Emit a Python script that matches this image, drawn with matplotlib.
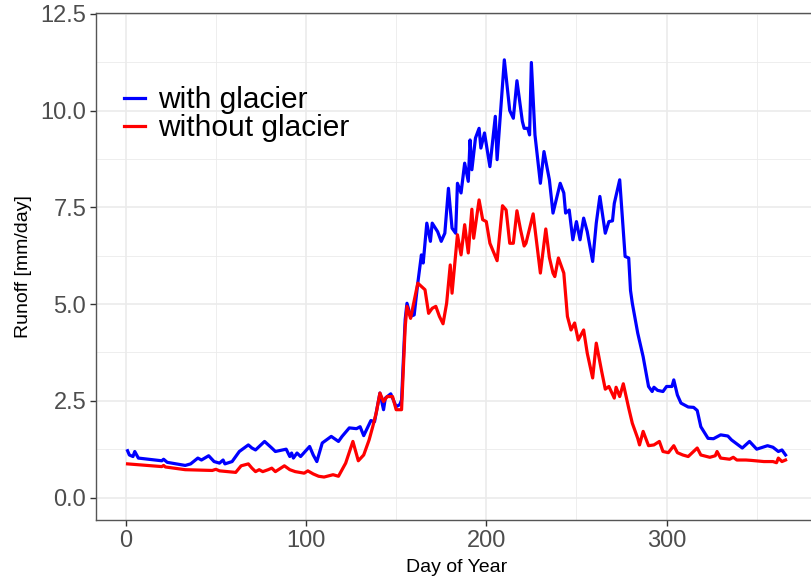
import matplotlib
matplotlib.use("Agg")
import matplotlib.pyplot as plt
from matplotlib.ticker import MultipleLocator

# mean daily runoff, with and without glacier melt
days_with = [1, 2, 4, 5, 7, 20, 21, 23, 33, 36, 40, 42, 46, 49, 52, 54, 55, 59, 63, 68,
             70, 72, 77, 81, 83, 89, 91, 92, 93, 95, 97, 102, 104, 106, 109, 114, 118, 120,
             124, 128, 130, 132, 136, 138, 140, 141, 143, 144, 147, 150, 152, 153, 155, 156,
             158, 160, 162, 164, 165, 167, 169, 170, 173, 175, 177, 179, 181, 183, 184, 186,
             188, 190, 191, 192, 194, 196, 197, 199, 202, 205, 206, 210, 213, 215, 217, 220,
             221, 223, 224, 225, 227, 230, 232, 235, 237, 241, 243, 244, 246, 248, 250, 252,
             254, 256, 259, 261, 263, 266, 268, 270, 271, 274, 277, 279, 280, 281, 284, 287,
             290, 292, 293, 295, 298, 300, 303, 304, 306, 308, 312, 315, 317, 319, 323, 326,
             330, 334, 336, 342, 346, 350, 356, 359, 362, 364, 366]
runoff_with = [1.21, 1.10, 1.06, 1.19, 1.02, 0.95, 0.99, 0.91, 0.83, 0.87, 1.02, 0.97, 1.08,
               0.93, 0.89, 0.97, 0.87, 0.93, 1.19, 1.36, 1.28, 1.23, 1.45, 1.28, 1.19, 1.25,
               1.06, 1.15, 1.02, 1.15, 1.06, 1.32, 1.10, 0.93, 1.41, 1.58, 1.45, 1.58, 1.80,
               1.78, 1.83, 1.60, 1.99, 1.96, 2.45, 2.70, 2.27, 2.57, 2.68, 2.35, 2.40, 2.52,
               4.60, 5.02, 4.68, 4.72, 5.54, 6.27, 6.06, 7.09, 6.62, 7.09, 6.87, 6.62, 6.83,
               7.99, 6.96, 6.83, 8.12, 7.87, 8.64, 8.17, 9.24, 8.47, 9.29, 9.54, 9.03, 9.42,
               8.55, 9.85, 8.73, 11.31, 10.00, 9.80, 10.77, 9.72, 9.54, 9.54, 9.37, 11.24,
               9.37, 8.12, 8.94, 8.21, 7.35, 8.12, 7.87, 7.35, 7.43, 6.66, 7.13, 6.66, 7.22,
               6.87, 6.10, 7.09, 7.78, 6.83, 7.13, 7.15, 7.60, 8.21, 6.23, 6.19, 5.35, 5.02,
               4.25, 3.64, 2.87, 2.74, 2.85, 2.77, 2.74, 2.87, 2.87, 3.04, 2.65, 2.44, 2.34,
               2.33, 2.25, 1.83, 1.53, 1.52, 1.62, 1.59, 1.49, 1.28, 1.45, 1.25, 1.34, 1.30,
               1.19, 1.23, 1.10]

days_without = [1, 20, 21, 22, 33, 48, 50, 52, 61, 64, 68, 70, 72, 74, 76, 79, 81, 83, 88,
                91, 94, 99, 101, 104, 107, 110, 115, 118, 122, 126, 129, 132, 135, 137, 139,
                141, 143, 145, 148, 150, 153, 155, 156, 158, 162, 166, 168, 170, 172, 174,
                176, 178, 180, 181, 184, 186, 188, 190, 192, 193, 196, 198, 200, 202, 206,
                209, 211, 213, 215, 217, 219, 221, 222, 226, 230, 233, 235, 237, 238, 240,
                243, 245, 247, 249, 251, 254, 256, 259, 261, 264, 266, 268, 271, 272, 274,
                276, 279, 281, 284, 285, 287, 290, 293, 296, 298, 301, 304, 306, 309, 312,
                317, 319, 324, 327, 328, 330, 335, 337, 339, 344, 347, 354, 359, 361, 362,
                364, 366]
runoff_without = [0.87, 0.80, 0.83, 0.79, 0.72, 0.70, 0.73, 0.69, 0.65, 0.82, 0.87, 0.76,
                  0.67, 0.72, 0.67, 0.72, 0.76, 0.67, 0.82, 0.72, 0.67, 0.63, 0.69, 0.61,
                  0.55, 0.53, 0.59, 0.55, 0.89, 1.45, 0.95, 1.10, 1.49, 1.83, 2.20, 2.70,
                  2.48, 2.61, 2.61, 2.27, 2.27, 4.40, 4.94, 4.63, 5.54, 5.37, 4.76, 4.89,
                  4.94, 4.68, 4.49, 5.02, 6.01, 5.28, 6.79, 6.27, 7.05, 6.32, 7.45, 6.70,
                  7.69, 7.18, 7.13, 6.57, 6.12, 7.54, 7.43, 6.57, 6.57, 7.41, 6.92, 6.50,
                  6.57, 7.33, 5.80, 6.94, 6.20, 5.80, 5.71, 6.19, 5.80, 4.68, 4.33, 4.51,
                  4.07, 4.33, 3.73, 3.09, 3.99, 3.26, 2.80, 2.87, 2.57, 2.85, 2.61, 2.94,
                  2.31, 1.92, 1.53, 1.36, 1.71, 1.34, 1.36, 1.45, 1.19, 1.16, 1.34, 1.16,
                  1.10, 1.06, 1.28, 1.10, 1.04, 1.08, 1.19, 1.02, 0.99, 1.04, 0.97, 0.97,
                  0.96, 0.93, 0.93, 0.90, 1.02, 0.93, 0.97]

plt.rcParams['font.family'] = ['Liberation Sans', 'DejaVu Sans']

fig = plt.figure(figsize=(8.11, 5.8), dpi=100)
ax = fig.add_axes([96 / 811, 60 / 580, 722 / 811, 507 / 580])

ax.plot(days_with, runoff_with, color='#0000ff', lw=2.3, label='with glacier')
ax.plot(days_without, runoff_without, color='#ff0000', lw=2.3, label='without glacier')

ax.set_xlim(-16.5, 384)
ax.set_ylim(-0.58, 12.52)
ax.xaxis.set_major_locator(MultipleLocator(100))
ax.xaxis.set_minor_locator(MultipleLocator(50))
ax.yaxis.set_major_locator(MultipleLocator(2.5))
ax.yaxis.set_minor_locator(MultipleLocator(1.25))
ax.yaxis.set_major_formatter(lambda v, pos: f'{v:.1f}')

ax.grid(which='major', color='#ebebeb', lw=1.2)
ax.grid(which='minor', color='#ebebeb', lw=0.6)
ax.set_axisbelow(True)
for s in ax.spines.values():
    s.set_color('#555555')
    s.set_linewidth(1.0)

ax.tick_params(which='major', length=4, width=1, color='#333333',
               labelsize=17, labelcolor='#4d4d4d', pad=3)
ax.tick_params(which='minor', length=0)

ax.set_xlabel('Day of Year', fontsize=14, labelpad=5)
ax.set_ylabel('Runoff [mm/day]', fontsize=14, labelpad=6)

ax.legend(loc='upper left', bbox_to_anchor=(124 / 811, 1 - 86 / 580),
          bbox_transform=fig.transFigure, frameon=False,
          fontsize=21.5, handlelength=0.7, handletextpad=0.43, labelspacing=0,
          borderpad=0, borderaxespad=0)

fig.savefig('out.png', dpi=100)
